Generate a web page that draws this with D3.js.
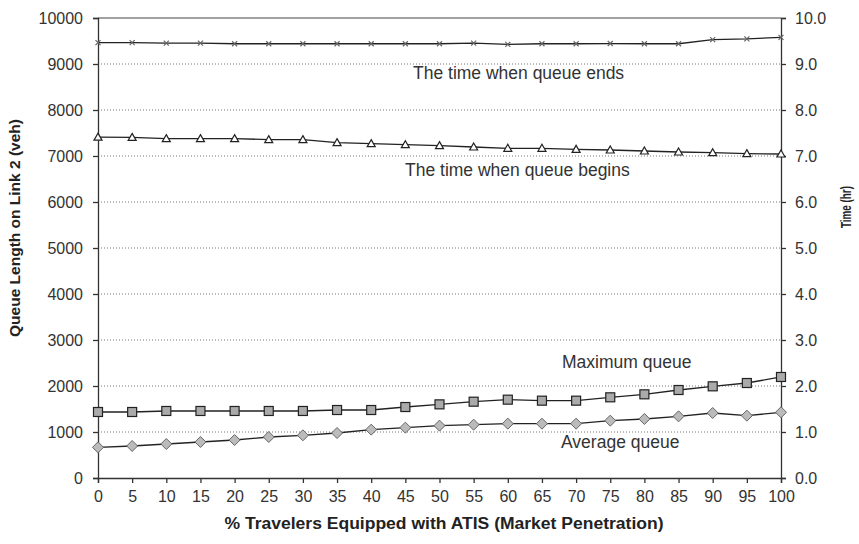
<!DOCTYPE html>
<html>
<head>
<meta charset="utf-8">
<script src="https://cdn.jsdelivr.net/npm/d3@7"></script>
<style>
  body { margin: 0; background: #fff; }
  svg { display: block; }
</style>
</head>
<body>
<script>
// Data
var penetration = [0, 5, 10, 15, 20, 25, 30, 35, 40, 45, 50, 55, 60, 65, 70, 75, 80, 85, 90, 95, 100];
var queueEnds   = [9465, 9465, 9455, 9455, 9440, 9440, 9440, 9440, 9440, 9440, 9440, 9455, 9428, 9440, 9440, 9445, 9440, 9440, 9530, 9545, 9580];
var queueBegins = [7410, 7405, 7378, 7378, 7378, 7355, 7355, 7290, 7268, 7246, 7225, 7196, 7167, 7167, 7145, 7130, 7109, 7087, 7072, 7051, 7043];
var maxQueue    = [1435, 1435, 1457, 1457, 1457, 1457, 1457, 1478, 1478, 1543, 1601, 1659, 1703, 1681, 1681, 1754, 1819, 1913, 1993, 2065, 2196];
var avgQueue    = [667, 696, 739, 783, 826, 891, 928, 978, 1051, 1094, 1138, 1159, 1181, 1181, 1181, 1246, 1283, 1341, 1413, 1355, 1428];
var leftTicks  = [0, 1000, 2000, 3000, 4000, 5000, 6000, 7000, 8000, 9000, 10000];
var rightTicks = [0, 1, 2, 3, 4, 5, 6, 7, 8, 9, 10];
var seriesLabels = ["The time when queue ends", "The time when queue begins", "Maximum queue", "Average queue"];

var width = 859, height = 544;

var svg = d3.select("body")
    .append("svg")
    .attr("width", width)
    .attr("height", height);

var x = d3.scaleLinear().domain([0, 100]).range([98, 781]);
var y = d3.scaleLinear().domain([0, 10000]).range([478, 18]);
var y2 = d3.scaleLinear().domain([0, 10]).range([478, 18]);

var font = "Arial, 'Liberation Sans', sans-serif";

// dotted gridlines
svg.append("g")
    .selectAll("line")
    .data(leftTicks.filter(function(d) { return d > 0 && d < 10000; }))
    .enter().append("line")
    .attr("x1", x(0)).attr("x2", x(100))
    .attr("y1", function(d) { return y(d); })
    .attr("y2", function(d) { return y(d); })
    .attr("stroke", "#777")
    .attr("stroke-width", 1)
    .attr("stroke-dasharray", "1,2");

// top border
svg.append("line")
    .attr("x1", x(0)).attr("x2", x(100))
    .attr("y1", y(10000)).attr("y2", y(10000))
    .attr("stroke", "#444");

// axes
var gl = svg.append("g")
    .attr("transform", "translate(" + x(0) + ",0)")
    .call(d3.axisLeft(y).tickValues(leftTicks).tickFormat(d3.format("d")).tickSize(5).tickPadding(10));
var gr = svg.append("g")
    .attr("transform", "translate(" + x(100) + ",0)")
    .call(d3.axisRight(y2).tickValues(rightTicks).tickFormat(d3.format(".1f")).tickSize(5).tickPadding(9));
var gb = svg.append("g")
    .attr("transform", "translate(0," + y(0) + ")")
    .call(d3.axisBottom(x).tickValues(penetration).tickSize(5).tickPadding(8));

[gl, gr, gb].forEach(function(g) {
    g.select(".domain").attr("stroke", "#333").attr("stroke-width", 1.3);
    g.selectAll(".tick line").attr("stroke", "#333").attr("stroke-width", 1.3);
    g.selectAll(".tick text")
        .attr("fill", "#333")
        .style("font-family", font)
        .style("font-size", "16px");
});

// lines
var line = d3.line()
    .x(function(d, i) { return x(penetration[i]); })
    .y(function(d) { return y(d); });

[queueEnds, queueBegins, maxQueue, avgQueue].forEach(function(s) {
    svg.append("path")
        .datum(s)
        .attr("fill", "none")
        .attr("stroke", "#222")
        .attr("stroke-width", 1.3)
        .attr("d", line);
});

// markers: x
svg.append("g")
    .selectAll("path")
    .data(queueEnds)
    .enter().append("path")
    .attr("transform", function(d, i) { return "translate(" + x(penetration[i]) + "," + y(d) + ")"; })
    .attr("d", "M-2.5,-2.5L2.5,2.5M-2.5,2.5L2.5,-2.5")
    .attr("stroke", "#666")
    .attr("stroke-width", 1.2);

// markers: triangles
svg.append("g")
    .selectAll("path")
    .data(queueBegins)
    .enter().append("path")
    .attr("transform", function(d, i) { return "translate(" + x(penetration[i]) + "," + y(d) + ")"; })
    .attr("d", "M0,-4L4,3L-4,3Z")
    .attr("fill", "#fff")
    .attr("stroke", "#222")
    .attr("stroke-width", 1.2);

// markers: squares
svg.append("g")
    .selectAll("rect")
    .data(maxQueue)
    .enter().append("rect")
    .attr("x", function(d, i) { return x(penetration[i]) - 4.5; })
    .attr("y", function(d) { return y(d) - 4.5; })
    .attr("width", 9).attr("height", 9)
    .attr("fill", "#aaa")
    .attr("stroke", "#222")
    .attr("stroke-width", 1.2);

// markers: diamonds
svg.append("g")
    .selectAll("path")
    .data(avgQueue)
    .enter().append("path")
    .attr("transform", function(d, i) { return "translate(" + x(penetration[i]) + "," + y(d) + ")"; })
    .attr("d", "M0,-5.5L5.5,0L0,5.5L-5.5,0Z")
    .attr("fill", "#bbb")
    .attr("stroke", "#666")
    .attr("stroke-width", 1);

// series labels
var labelPos = [[413, 79], [405, 176], [562, 368], [561, 448]];
svg.append("g")
    .selectAll("text")
    .data(seriesLabels)
    .enter().append("text")
    .attr("x", function(d, i) { return labelPos[i][0]; })
    .attr("y", function(d, i) { return labelPos[i][1]; })
    .attr("fill", "#333")
    .style("font-family", font)
    .style("font-size", "17.5px")
    .text(function(d) { return d; });

// axis titles
svg.append("text")
    .attr("transform", "translate(20,228) rotate(-90)")
    .attr("text-anchor", "middle")
    .attr("fill", "#222")
    .style("font-family", font)
    .style("font-size", "15.5px")
    .style("font-weight", "bold")
    .text("Queue Length on Link 2 (veh)");

svg.append("text")
    .attr("transform", "translate(851,207) rotate(-90)")
    .attr("text-anchor", "middle")
    .attr("fill", "#222")
    .attr("textLength", 42)
    .attr("lengthAdjust", "spacingAndGlyphs")
    .style("font-family", font)
    .style("font-size", "15px")
    .style("font-weight", "bold")
    .text("Time (hr)");

svg.append("text")
    .attr("x", 444)
    .attr("y", 529)
    .attr("text-anchor", "middle")
    .attr("fill", "#222")
    .attr("textLength", 439)
    .attr("lengthAdjust", "spacingAndGlyphs")
    .style("font-family", font)
    .style("font-size", "16px")
    .style("font-weight", "bold")
    .text("% Travelers Equipped with ATIS (Market Penetration)");
</script>
</body>
</html>
